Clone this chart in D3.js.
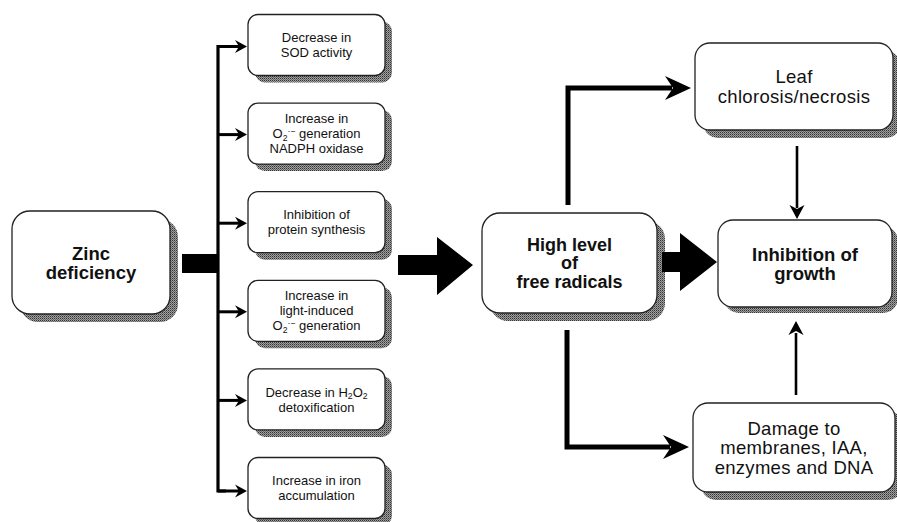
<!DOCTYPE html>
<html><head><meta charset="utf-8">
<script src="https://cdn.jsdelivr.net/npm/d3@7"></script>
<style>
html,body{margin:0;padding:0;background:#fff;}
svg{display:block;}
text{font-family:"Liberation Sans",Arial,Helvetica,sans-serif;fill:#111;}
</style></head>
<body>
<svg id="chart" width="897" height="522"></svg>
<script>
// ---- content ----
const sourceLabel = ["Zinc", "deficiency"];
const effectLabels = [
  ["Decrease in", "SOD activity"],
  ["Increase in", "O_2^{·−} generation", "NADPH oxidase"],
  ["Inhibition of", "protein synthesis"],
  ["Increase in", "light-induced", "O_2^{·−} generation"],
  ["Decrease in H_2O_2", "detoxification"],
  ["Increase in iron", "accumulation"]
];
const centralLabel = ["High level", "of", "free radicals"];
const leafLabel = ["Leaf", "chlorosis/necrosis"];
const damageLabel = ["Damage to", "membranes, IAA,", "enzymes and DNA"];
const growthLabel = ["Inhibition of", "growth"];

const svg = d3.select("#chart");
const defs = svg.append("defs");
const pat = defs.append("pattern").attr("id","dots").attr("width",2).attr("height",2)
  .attr("patternUnits","userSpaceOnUse");
pat.append("rect").attr("width",2).attr("height",2).attr("fill","#a0a0a0");
pat.append("rect").attr("width",1).attr("height",1).attr("fill","#333");
pat.append("rect").attr("x",1).attr("y",1).attr("width",1).attr("height",1).attr("fill","#666");

const ySmall = d3.scalePoint().domain(d3.range(effectLabels.length)).range([45, 488]);

function writeLine(g, str, x, y, size, weight, ls){
  const t = g.append("text").attr("x",x).attr("y",y).attr("text-anchor","middle")
    .attr("font-size",size).attr("font-weight",weight);
  if(ls) t.attr("letter-spacing", ls);
  const parts = str.split(/(_\{[^}]*\}|\^\{[^}]*\}|_.)/).filter(s=>s.length);
  let cur = 0;
  parts.forEach(p=>{
    let txt=p, off=0, small=false;
    if(p.startsWith("_")){ txt = p[1]==="{"?p.slice(2,-1):p.slice(1); off=size*0.2; small=true; }
    else if(p.startsWith("^")){ txt=p.slice(2,-1); off=-size*0.34; small=true; }
    const ts = t.append("tspan").attr("dy", off-cur).text(txt);
    if(small) ts.attr("font-size", size*0.66);
    cur = off;
  });
}

function box(x,y,w,h,r,lines,size,weight,lh,sh,ls){
  const g = svg.append("g");
  g.append("rect").attr("x",x+sh).attr("y",y+sh).attr("width",w).attr("height",h)
    .attr("rx",r).attr("fill","url(#dots)");
  g.append("rect").attr("x",x).attr("y",y).attr("width",w).attr("height",h)
    .attr("rx",r).attr("fill","#fff").attr("stroke","#222").attr("stroke-width",1.3);
  const cx = x+w/2, cy = y+h/2;
  const first = cy - (lines.length-1)*lh/2 + size*0.36;
  lines.forEach((l,i)=>writeLine(g,l,cx,first+i*lh,size,weight,ls));
}

function arrowHead(x,y,dir,len,half,notch){
  let pts;
  if(dir==='r') pts=[[x,y],[x-len,y-half],[x-len+notch,y],[x-len,y+half]];
  if(dir==='d') pts=[[x,y],[x-half,y-len],[x,y-len+notch],[x+half,y-len]];
  if(dir==='u') pts=[[x,y],[x-half,y+len],[x,y+len-notch],[x+half,y+len]];
  svg.append("path").attr("d", d3.line()(pts)+"Z").attr("fill","#000");
}
function poly(pts, w){
  svg.append("path").attr("d", d3.line()(pts)).attr("fill","none").attr("stroke","#000")
    .attr("stroke-width",w).attr("stroke-linejoin","miter").attr("stroke-linecap","butt");
}

// Zinc deficiency box
box(12,211,158,103,18,sourceLabel,18.5,"bold",19,8);
// thick connector
svg.append("rect").attr("x",182).attr("y",254).attr("width",37).attr("height",19).attr("fill","#000");
// vertical trunk
const trunkX = 218;
poly([[trunkX+8, ySmall(0)+1.5],[trunkX, ySmall(0)+1.5],[trunkX, ySmall(effectLabels.length-1)+3],[trunkX+8,ySmall(effectLabels.length-1)+3]],3.2);
effectLabels.forEach((lab,i)=>{
  const yy = ySmall(i)+ (i===0?1.5:(i===effectLabels.length-1?3:1));
  poly([[trunkX,yy],[240,yy]],3);
  arrowHead(247,yy,'r',12,6.5,4);
  box(248, ySmall(i)-30.5, 137, 61, 10, lab, 13, "normal", 15, 7);
});

// big arrow 1
svg.append("path").attr("d", d3.line()([[398,255],[437,255],[437,237],[473,265],[437,295],[437,275],[398,275]])+"Z").attr("fill","#000");
// central box
box(482,213,175,100,18,centralLabel,18,"bold",18.5,8);
// big arrow 2
svg.append("path").attr("d", d3.line()([[662,252],[680,252],[680,233],[717,262],[680,291],[680,272],[662,272]])+"Z").attr("fill","#000");
// outcome boxes
box(695,43,198,87,15,leafLabel,18.5,"normal",19.5,8,0.3);
box(718,220,174,87,15,growthLabel,18.5,"bold",19,6);
box(693,403,202,89,15,damageLabel,18.5,"normal",19.5,8,0.3);

// elbows
poly([[568,205],[568,88],[672,88]],5);
arrowHead(691,88,'r',26,12,8);
poly([[567,330],[567,447],[670,447]],5);
arrowHead(689,447,'r',26,12,8);
// vertical arrows
poly([[797,146],[797,208]],2.6);
arrowHead(797,219,'d',14,7.5,4);
poly([[796,395],[796,333]],2.6);
arrowHead(796,321,'u',14,7.5,4);
</script>
</body></html>
